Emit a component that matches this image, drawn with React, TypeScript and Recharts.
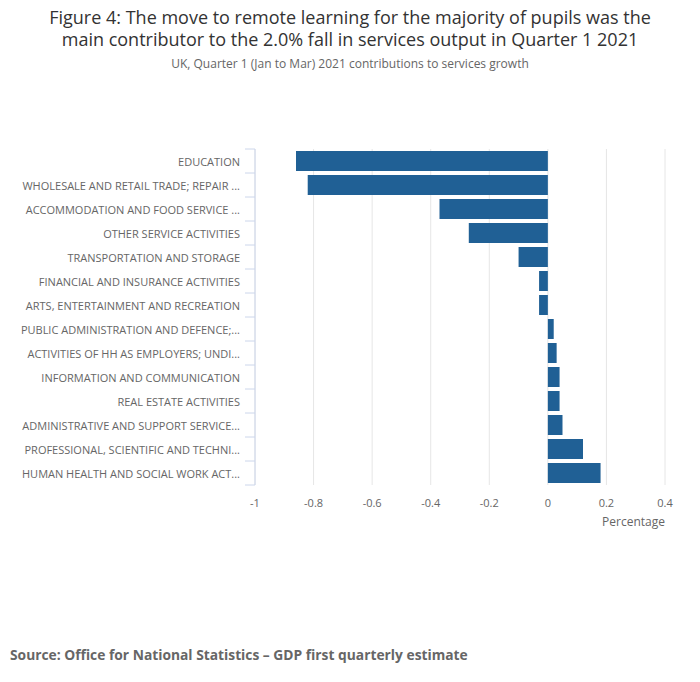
import React from "react";
import {
  Bar,
  BarChart,
  CartesianGrid,
  XAxis,
  YAxis,
} from "recharts";

const CATEGORIES = [
  "EDUCATION",
  "WHOLESALE AND RETAIL TRADE; REPAIR ...",
  "ACCOMMODATION AND FOOD SERVICE ...",
  "OTHER SERVICE ACTIVITIES",
  "TRANSPORTATION AND STORAGE",
  "FINANCIAL AND INSURANCE ACTIVITIES",
  "ARTS, ENTERTAINMENT AND RECREATION",
  "PUBLIC ADMINISTRATION AND DEFENCE;...",
  "ACTIVITIES OF HH AS EMPLOYERS; UNDI...",
  "INFORMATION AND COMMUNICATION",
  "REAL ESTATE ACTIVITIES",
  "ADMINISTRATIVE AND SUPPORT SERVICE...",
  "PROFESSIONAL, SCIENTIFIC AND TECHNI...",
  "HUMAN HEALTH AND SOCIAL WORK ACT...",
];

const CONTRIBUTIONS = [
  -0.86, -0.82, -0.37, -0.27, -0.1, -0.03, -0.03, 0.02, 0.03, 0.04, 0.04, 0.05,
  0.12, 0.18,
];

const X_TICKS = [-1, -0.8, -0.6, -0.4, -0.2, 0, 0.2, 0.4];

const data = CATEGORIES.map((name, i) => ({
  name,
  value: CONTRIBUTIONS[i],
}));

const AXIS_BLUE = "#ccd6eb";

function CategoryTick(props: any) {
  const { x, y, payload, index, visibleTicksCount } = props;
  const half = payload.offset || 12;
  return (
    <g>
      <line
        x1={x + 5}
        x2={x + 15}
        y1={y - half}
        y2={y - half}
        stroke={AXIS_BLUE}
      />
      {index === visibleTicksCount - 1 && (
        <line
          x1={x + 5}
          x2={x + 15}
          y1={y + half}
          y2={y + half}
          stroke={AXIS_BLUE}
        />
      )}
      <text x={x} y={y} dy={4.5} textAnchor="end" fill="#666666" fontSize={11}>
        {payload.value}
      </text>
    </g>
  );
}

export default function App() {
  return (
    <div
      style={{
        position: "absolute",
        left: 0,
        top: 0,
        width: 700,
        height: 682,
        background: "#fff",
        fontFamily: "'Open Sans', sans-serif",
      }}
    >
      <div
        style={{
          position: "absolute",
          top: 6,
          left: 0,
          width: 700,
          textAlign: "center",
          fontSize: 18,
          lineHeight: "22px",
          color: "#333333",
        }}
      >
        Figure 4: The move to remote learning for the majority of pupils was the
        <br />
        main contributor to the 2.0% fall in services output in Quarter 1 2021
      </div>
      <div
        style={{
          position: "absolute",
          top: 56,
          left: 0,
          width: 700,
          textAlign: "center",
          fontSize: 12,
          lineHeight: "16px",
          color: "#666666",
        }}
      >
        UK, Quarter 1 (Jan to Mar) 2021 contributions to services growth
      </div>

      <div style={{ position: "absolute", top: 0, left: 0 }}>
        <BarChart
          width={700}
          height={682}
          data={data}
          layout="vertical"
          margin={{ top: 149, right: 35, bottom: 167, left: 0 }}
        >
          <CartesianGrid horizontal={false} stroke="#e6e6e6" />
          <XAxis
            type="number"
            domain={[-1, 0.4]}
            ticks={X_TICKS}
            axisLine={false}
            tickLine={false}
            tickMargin={8}
            height={30}
            tick={{ fill: "#666666", fontSize: 11 }}
          />
          <YAxis
            type="category"
            dataKey="name"
            width={255}
            axisLine={{ stroke: AXIS_BLUE }}
            tickLine={false}
            tickSize={10}
            tickMargin={5}
            interval={0}
            tick={<CategoryTick />}
          />
          <Bar
            dataKey="value"
            fill="#206095"
            barSize={20}
            isAnimationActive={false}
          />
        </BarChart>
      </div>

      <div
        style={{
          position: "absolute",
          top: 514,
          right: 35,
          fontSize: 12,
          lineHeight: "16px",
          color: "#666666",
        }}
      >
        Percentage
      </div>

      <div
        style={{
          position: "absolute",
          top: 645,
          left: 10,
          fontSize: 13.8,
          fontWeight: 700,
          lineHeight: "20px",
          color: "#666666",
        }}
      >
        Source: Office for National Statistics – GDP first quarterly estimate
      </div>
    </div>
  );
}
